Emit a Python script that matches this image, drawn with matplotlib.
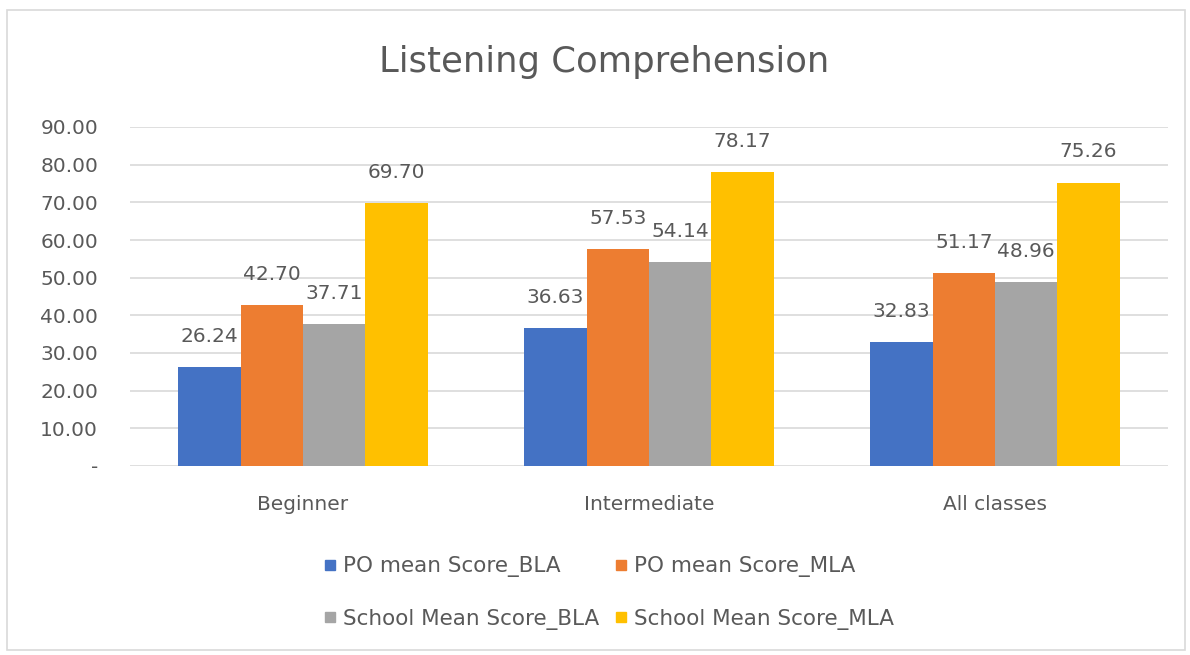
import matplotlib.pyplot as plt
import numpy as np
from matplotlib.lines import Line2D
from matplotlib.patches import Rectangle

categories = ['Beginner', 'Intermediate', 'All classes']
series_names = ['PO mean Score_BLA', 'PO mean Score_MLA',
                'School Mean Score_BLA', 'School Mean Score_MLA']
po_bla = [26.24, 36.63, 32.83]
po_mla = [42.70, 57.53, 51.17]
school_bla = [37.71, 54.14, 48.96]
school_mla = [69.70, 78.17, 75.26]
colors = ['#4472C4', '#ED7D31', '#A5A5A5', '#FFC000']

plt.rcParams['font.family'] = ['DejaVu Sans']
txt = '#595959'
fs = 14.5

fig = plt.figure(figsize=(11.9, 6.55), dpi=100)
fig.patches.append(Rectangle((7/1190, 5/655), 1178/1190, 640/655, transform=fig.transFigure,
                             fill=False, edgecolor='#d9d9d9', linewidth=1.2))
ax = fig.add_axes([130/1190, 1-466/655, 1038/1190, 339/655])

x = np.arange(len(categories))
w = 0.18
all_series = [po_bla, po_mla, school_bla, school_mla]
for i, vals in enumerate(all_series):
    pos = x + (i - 1.5) * w
    ax.bar(pos, vals, w, color=colors[i], label=series_names[i], zorder=3)
    for px, v in zip(pos, vals):
        ax.annotate(f'{v:.2f}', (px, v), xytext=(0, 22), textcoords='offset points',
                    ha='center', va='center', fontsize=fs, color=txt)

ax.set_xlim(-0.5, 2.5)
ax.set_ylim(0, 90)
ax.set_yticks(range(0, 91, 10))
ax.set_yticklabels(['-' if v == 0 else f'{v:.2f}' for v in range(0, 91, 10)])
ax.set_xticks(x)
ax.set_xticklabels(categories)
ax.grid(axis='y', color='#d9d9d9', linewidth=1.2, zorder=0)
for s in ax.spines.values():
    s.set_visible(False)
ax.tick_params(axis='both', length=0, colors=txt, labelsize=fs)
ax.tick_params(axis='y', pad=23)
ax.tick_params(axis='x', pad=21)

fig.text(604/1190, 1-62/655, 'Listening Comprehension', ha='center', va='center',
         fontsize=25.5, color=txt)

order = [0, 2, 1, 3]
handles = [Line2D([], [], marker='s', linestyle='', markersize=7, color=colors[i]) for i in order]
labels = [series_names[i] for i in order]
fig.legend(handles, labels, ncol=2, loc='center', bbox_to_anchor=(609/1190, 1-593/655),
           frameon=False, fontsize=15.5, labelcolor=txt, labelspacing=1.45,
           handletextpad=0.3, columnspacing=0.7, handlelength=0.6)

fig.savefig('out.png', dpi=100)
